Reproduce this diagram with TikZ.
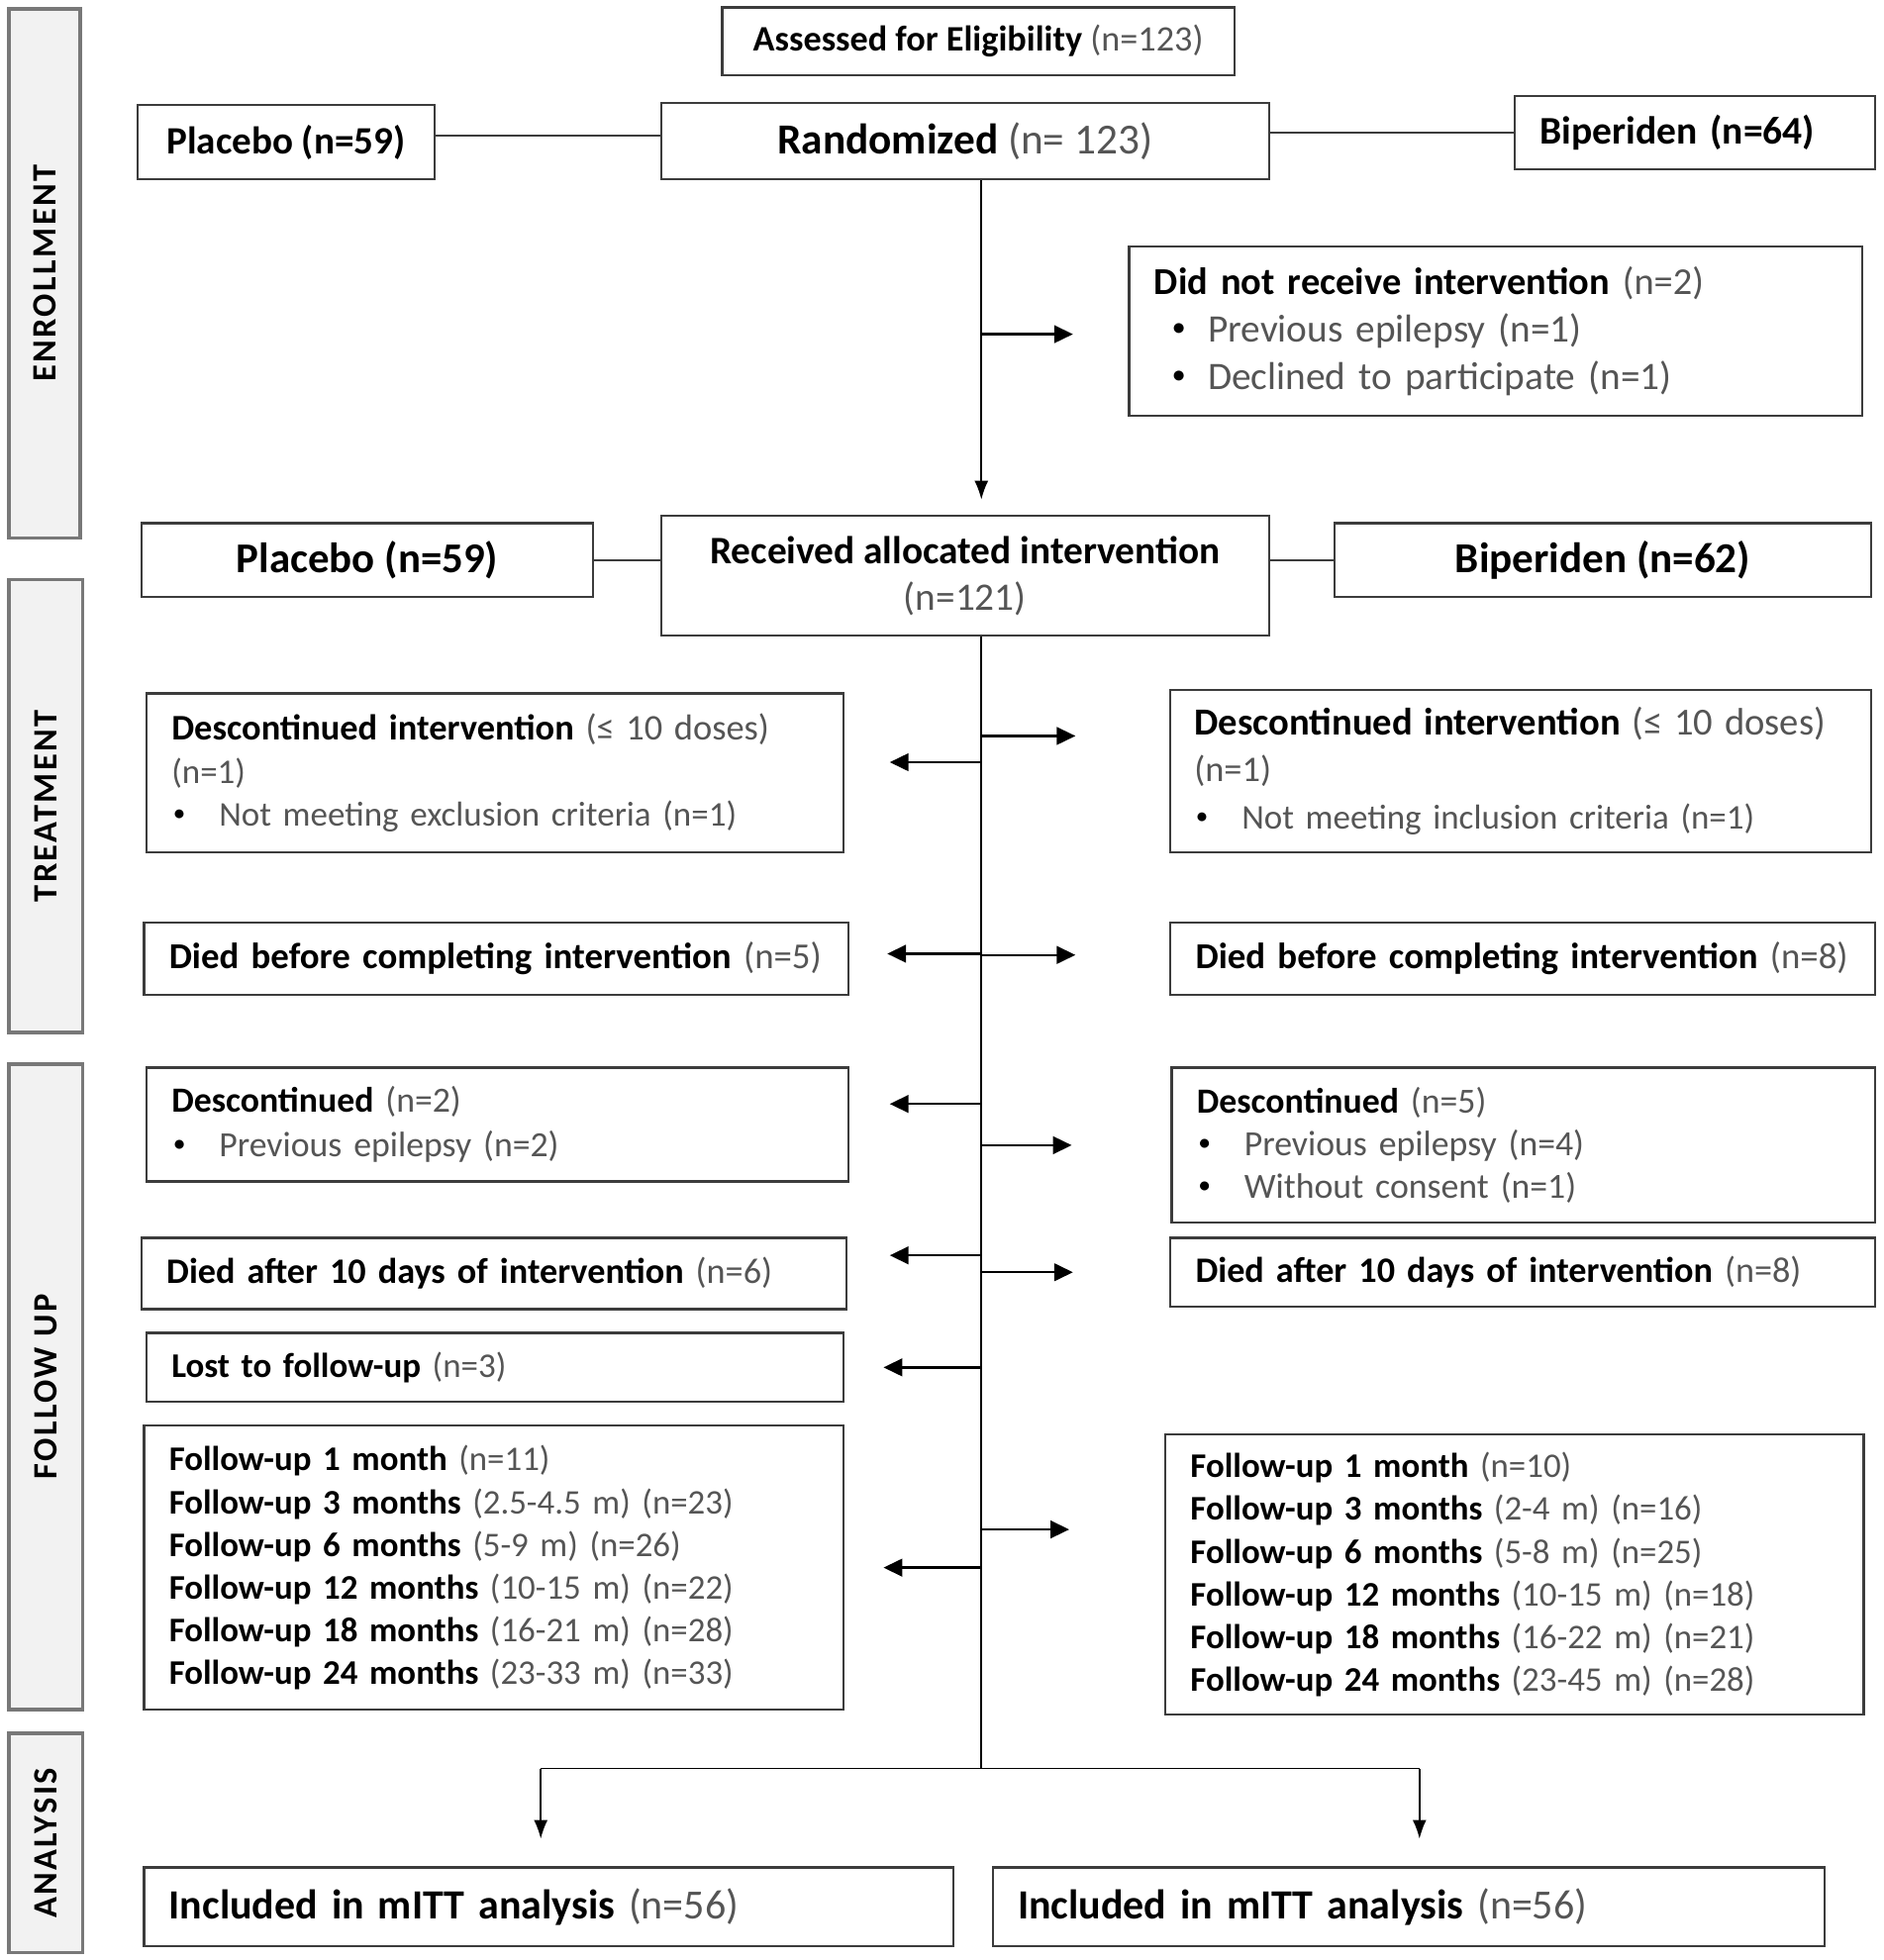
\documentclass[tikz,border=0pt]{standalone}
\usepackage{fontspec}
\setmainfont{Carlito}
\newfontfamily\stagefont[LetterSpace=7]{Carlito}
\usepackage{xcolor}
\usetikzlibrary{arrows.meta,positioning,calc}
\definecolor{boxline}{RGB}{60,60,60}
\definecolor{numgray}{RGB}{85,85,85}
\definecolor{stagefill}{RGB}{242,242,242}
\definecolor{stageline}{RGB}{120,120,120}
\newcommand{\nr}[1]{{\mdseries\color{numgray}#1}}
\newcommand{\fs}[2]{\fontsize{#1}{#2}\selectfont}
\newcommand{\dotb}{\raisebox{0.17em}{\scalebox{0.6}{\textbullet}}}
\newcommand{\bul}{\makebox[0.76cm][l]{\hspace{0.04cm}\dotb}}

\begin{document}
\begin{tikzpicture}[x=0.02cm, y=-0.02cm,
        box/.style={draw=boxline, line width=1pt, fill=white, inner xsep=0.4cm, inner ysep=0pt, align=left},
        cbox/.style={box, align=center},
        stage/.style={draw=stageline, line width=1.6pt, fill=stagefill, rotate=90, inner sep=0pt, font=\stagefont\bfseries\fs{15.5}{18}},
        link/.style={line width=0.8pt, boxline},
        stem/.style={line width=0.7pt, black},
        arrV/.style={stem, -{Latex[length=0.3cm, width=0.22cm]}},
        arrS/.style={line width=1.1pt, black, -{Triangle[length=0.3cm, width=0.28cm]}}
    ]
        \useasboundingbox (0,0) rectangle (1505,1566);

        % Stages
        \node[stage, minimum width=8.46cm, minimum height=1.14cm] (enroll) at (35.5,218.5) {ENROLLMENT};
        \node[stage, minimum width=7.24cm, minimum height=1.18cm] (treat) at (36.5,644) {TREATMENT};
        \node[stage, minimum width=10.32cm, minimum height=1.18cm] (follow) at (36.5,1108) {FOLLOW UP};
        \node[stage, minimum width=3.5cm, minimum height=1.18cm] (anal) at (36.5,1472.5) {ANALYSIS};

        % Enrollment
        \node[cbox, minimum width=8.18cm, minimum height=1.08cm, font=\bfseries\fs{16.3}{18}] (assess) at (781.5,33) {Assessed for Eligibility \nr{(n=123)}};
        \node[cbox, minimum width=4.74cm, minimum height=1.18cm, font=\bfseries\fs{17.6}{20}] (plaTop) at (228.5,113.5) {Placebo (n=59)};
        \node[cbox, minimum width=9.72cm, minimum height=1.22cm, font=\bfseries\fs{19.5}{22}] (rand) at (771,112.5) {Randomized \nr{(n= 123)}};
        \node[box, minimum width=5.76cm, minimum height=1.16cm, text width=4.96cm, font=\bfseries\fs{17.8}{20}] (bipTop) at (1354,106) {Biperiden (n=64)};
        \node[box, minimum width=11.72cm, minimum height=2.7cm, text width=10.92cm, font=\bfseries\fs{17.7}{21.5}] (noRec) at (1195,264.5)
            {{\fs{17.3}{21.5}Did not receive intervention \nr{(n=2)}}\\
             \makebox[0.86cm][l]{\hspace{0.3cm}\dotb}\nr{Previous epilepsy (n=1)}\\
             \makebox[0.86cm][l]{\hspace{0.3cm}\dotb}\nr{Declined to participate (n=1)}};

        % Allocation
        \node[cbox, minimum width=9.72cm, minimum height=1.92cm, font=\bfseries\fs{17.7}{21}] (rec) at (771,460) {Received allocated intervention\\ \nr{(n=121)}};
        \node[cbox, minimum width=7.22cm, minimum height=1.18cm, font=\bfseries\fs{19.3}{22}] (plaMid) at (293.5,447.5) {Placebo (n=59)};
        \node[cbox, minimum width=8.58cm, minimum height=1.18cm, font=\bfseries\fs{19.4}{22}] (bipMid) at (1280.5,447.5) {Biperiden (n=62)};

        % Treatment
        \node[box, minimum width=11.14cm, minimum height=2.54cm, text width=10.34cm, font=\bfseries\fs{15.75}{19.6}] (dL1) at (395.5,617.5)
            {{\fs{16.4}{19.6}Descontinued intervention \nr{(≤ 10 doses)}}\\
             \nr{(n=1)}\\
             \bul\nr{Not meeting exclusion criteria (n=1)}};
        \node[box, minimum width=11.2cm, minimum height=2.6cm, inner xsep=0.38cm, text width=10.44cm, font=\bfseries\fs{15.75}{21.2}] (dR1) at (1215,616)
            {{\fs{17.4}{21.2}Descontinued intervention \nr{(≤ 10 doses)}}\\
             \nr{\fs{16.4}{21.2}(n=1)}\\
             \bul\nr{Not meeting inclusion criteria (n=1)}};
        \node[box, minimum width=11.26cm, minimum height=1.16cm, text width=10.46cm, font=\bfseries\fs{16.6}{20}] (diedBL) at (396.5,766) {\mbox{Died before completing intervention \nr{(n=5)}}};
        \node[box, minimum width=11.26cm, minimum height=1.16cm, text width=10.46cm, font=\bfseries\fs{16.6}{20}] (diedBR) at (1216.5,766) {\mbox{Died before completing intervention \nr{(n=8)}}};

        % Follow up
        \node[box, minimum width=11.22cm, minimum height=1.82cm, text width=10.42cm, font=\bfseries\fs{16.1}{20.4}] (dL2) at (397.5,898.5)
            {Descontinued \nr{(n=2)}\\
             \bul\nr{Previous epilepsy (n=2)}};
        \node[box, minimum width=11.24cm, minimum height=2.48cm, text width=10.44cm, font=\bfseries\fs{16.1}{19.3}] (dR2) at (1217,915)
            {Descontinued \nr{(n=5)}\\
             \bul\nr{Previous epilepsy (n=4)}\\
             \bul\nr{Without consent (n=1)}};
        \node[box, minimum width=11.26cm, minimum height=1.14cm, text width=10.46cm, font=\bfseries\fs{16.3}{20}] (daL) at (394.5,1017.5) {\mbox{Died after 10 days of intervention \nr{(n=6)}}};
        \node[box, minimum width=11.26cm, minimum height=1.1cm, text width=10.46cm, font=\bfseries\fs{16.3}{20}] (daR) at (1216.5,1016.5) {\mbox{Died after 10 days of intervention \nr{(n=8)}}};
        \node[box, minimum width=11.14cm, minimum height=1.1cm, text width=10.34cm, font=\bfseries\fs{15.75}{20}] (lost) at (395.5,1092.5) {Lost to follow-up \nr{(n=3)}};
        \node[box, minimum width=11.18cm, minimum height=4.54cm, text width=10.38cm, font=\bfseries\fs{15.7}{19.4}] (fuL) at (394.5,1252.5)
            {Follow-up 1 month \nr{(n=11)}\\
             Follow-up 3 months \nr{(2.5-4.5 m) (n=23)}\\
             Follow-up 6 months \nr{(5-9 m) (n=26)}\\
             Follow-up 12 months \nr{(10-15 m) (n=22)}\\
             Follow-up 18 months \nr{(16-21 m) (n=28)}\\
             Follow-up 24 months \nr{(23-33 m) (n=33)}};
        \node[box, minimum width=11.16cm, minimum height=4.48cm, text width=10.36cm, font=\bfseries\fs{15.7}{19.4}] (fuR) at (1210,1258)
            {Follow-up 1 month \nr{(n=10)}\\
             Follow-up 3 months \nr{(2-4 m) (n=16)}\\
             Follow-up 6 months \nr{(5-8 m) (n=25)}\\
             Follow-up 12 months \nr{(10-15 m) (n=18)}\\
             Follow-up 18 months \nr{(16-22 m) (n=21)}\\
             Follow-up 24 months \nr{(23-45 m) (n=28)}};

        % Analysis
        \node[box, minimum width=12.94cm, minimum height=1.26cm, text width=12.14cm, font=\bfseries\fs{18.9}{22}] (incL) at (438.5,1523.5) {Included in mITT analysis \nr{(n=56)}};
        \node[box, minimum width=13.3cm, minimum height=1.26cm, text width=12.5cm, font=\bfseries\fs{18.9}{22}] (incR) at (1125.5,1523.5) {Included in mITT analysis \nr{(n=56)}};

        % Connectors
        \coordinate (trunk) at (784,1413);
        \coordinate (toPla) at (432,1413);
        \coordinate (toBip) at (1134,1413);

        \draw[link] ($(plaTop.east)+(0,-5)$) -- ($(plaTop.east -| rand.west)+(0,-5)$);
        \draw[link] (rand.east |- bipTop.west) -- (bipTop.west);
        \draw[link] (plaMid.east) -- (plaMid.east -| rec.west);
        \draw[link] (rec.east |- bipMid.west) -- (bipMid.west);

        \draw[arrV, shorten >=0.24cm] (trunk |- rand.south) -- (trunk |- rec.north);
        \draw[stem] (trunk |- rec.south) -- (trunk);
        \draw[stem] (toPla) -- (toBip);
        \draw[arrV, shorten >=0.44cm] (toPla) -- (toPla |- incL.north);
        \draw[arrV, shorten >=0.44cm] (toBip) -- (toBip |- incR.north);

        \foreach \b/\dy/\g in {dL1/-8.5/36, diedBL/-4/30, dL2/-16.5/32, daL/-14.5/34, lost/0/31, fuL/0/31}
            \draw[arrS] ($(trunk |- \b.east)+(0,\dy)$) -- ($(\b.east)+(\g,\dy)$);
        \foreach \b/\dy/\g in {noRec/2.5/44, dR1/-28/75, diedBR/-3/75, dR2/0/79, daR/0/77, fuR/-36/76}
            \draw[arrS] ($(trunk |- \b.west)+(0,\dy)$) -- ($(\b.west)+(-\g,\dy)$);
    \end{tikzpicture}
\end{document}
